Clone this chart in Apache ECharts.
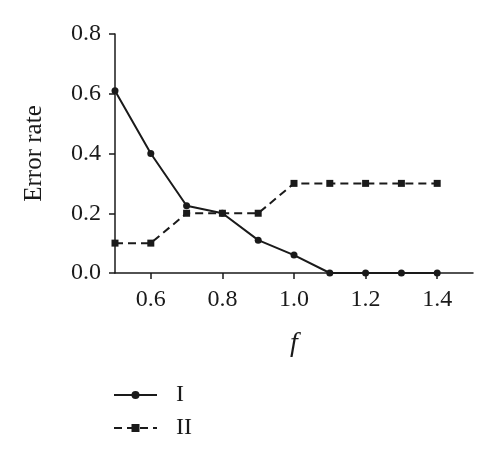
<!DOCTYPE html>
<html><head><meta charset="utf-8">
<script src="https://cdn.jsdelivr.net/npm/echarts@6/dist/echarts.min.js"></script>
<style>html,body{margin:0;padding:0;background:#fff}#c{width:500px;height:457px}</style>
</head><body><div id="c"></div>
<script>
const fValues = [0.5, 0.6, 0.7, 0.8, 0.9, 1.0, 1.1, 1.2, 1.3, 1.4];
const seriesI = [0.61, 0.40, 0.225, 0.20, 0.11, 0.06, 0, 0, 0, 0];
const seriesII = [0.10, 0.10, 0.20, 0.20, 0.20, 0.30, 0.30, 0.30, 0.30, 0.30];
const xTicks = [0.6, 0.8, 1.0, 1.2, 1.4];
const yTicks = [0, 0.2, 0.4, 0.6, 0.8];

const font = '"Liberation Serif", "Times New Roman", serif';
const ink = '#1a1a1a';
const chart = echarts.init(document.getElementById('c'));
chart.setOption({
  animation: false,
  textStyle: {fontFamily: font, color: ink},
  grid: {left: 115, right: 27, top: 34, bottom: 184},
  legend: {
    orient: 'vertical', left: 108, top: 378, itemWidth: 43, itemHeight: 10, itemGap: 9,
    textStyle: {fontFamily: font, fontSize: 24, color: ink, padding: [0,0,0,14]},
    data: ['I', 'II']
  },
  xAxis: {
    type: 'value', min: 0.5, max: 1.5,
    name: 'f', nameLocation: 'middle', nameGap: 57,
    nameTextStyle: {fontFamily: font, fontStyle: 'italic', fontSize: 28, color: ink},
    axisLine: {lineStyle: {color: ink, width: 1.5}},
    axisTick: {show: true, customValues: xTicks, length: 6, lineStyle: {color: ink, width: 1.5}},
    axisLabel: {customValues: xTicks, fontFamily: font, fontSize: 24, color: ink, margin: 15,
      formatter: v => v.toFixed(1)},
    splitLine: {show: false}
  },
  yAxis: {
    type: 'value', min: 0, max: 0.8, interval: 0.2,
    name: 'Error rate', nameLocation: 'middle', nameGap: 68,
    nameTextStyle: {fontFamily: font, fontSize: 25, color: ink},
    axisLine: {show: true, lineStyle: {color: ink, width: 1.5}},
    axisTick: {show: true, length: 6, lineStyle: {color: ink, width: 1.5}},
    axisLabel: {fontFamily: font, fontSize: 24, color: ink, margin: 14,
      formatter: v => v.toFixed(1)},
    splitLine: {show: false}
  },
  series: [
    {name: 'I', type: 'line', data: fValues.map((f, i) => [f, seriesI[i]]),
     symbol: 'circle', symbolSize: 7, itemStyle: {color: ink},
     lineStyle: {color: ink, width: 2}},
    {name: 'II', type: 'line', data: fValues.map((f, i) => [f, seriesII[i]]),
     symbol: 'rect', symbolSize: 7, itemStyle: {color: ink},
     lineStyle: {color: ink, width: 2, type: [8, 5]}}
  ]
});
</script></body></html>
